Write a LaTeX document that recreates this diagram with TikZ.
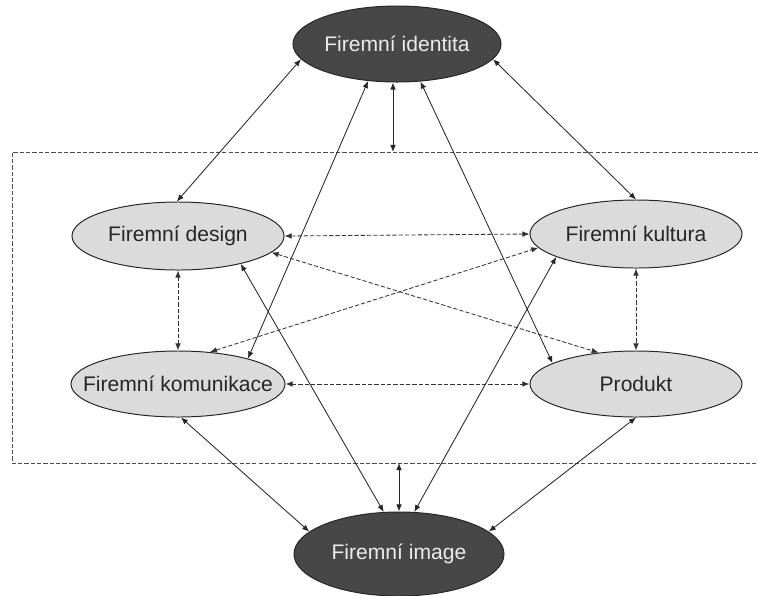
\documentclass[tikz,border=0pt]{standalone}
\usepackage{fontspec}
\setmainfont{Liberation Sans}
\usepackage{tikz}
\usetikzlibrary{
    arrows.meta,
    shapes.geometric,
}

\begin{document}
\begin{tikzpicture}[
        x=0.025cm, y=-0.025cm,
        >={Latex[length=5pt,width=4pt]},
        oval/.style={
            ellipse, draw=black!85, line width=0.7pt,
            minimum width=5.3cm, minimum height=1.7cm,
            inner xsep=-1cm, inner ysep=0pt,
            font=\fontsize{15}{18}\selectfont
        },
        light/.style={oval, fill=black!14, text=black!85},
        dark/.style={oval, fill=black!72, text=black!8},
        link/.style={<->, line width=0.6pt, black!85},
        dlink/.style={<->, line width=0.6pt, black!80, dash pattern=on 3pt off 1.5pt},
        frame/.style={line width=0.6pt, black!70, dash pattern=on 3pt off 1.5pt},
    ]
    \useasboundingbox (0,0) rectangle (758,595);

    % ── Frame ──
    \coordinate (frameNE) at (758,152);
    \coordinate (frameNW) at (12,152);
    \coordinate (frameSW) at (12,463);
    \coordinate (frameSE) at (758,463);
    \draw[frame] (frameNE) -- (frameNW) -- (frameSW) -- (frameSE);

    % ── Nodes ──
    \node[dark, minimum width=5.2cm, minimum height=1.9cm] (identita) at (397,44) {Firemní identita};
    \node[light] (design) at (178,236) {Firemní design};
    \node[light] (kultura) at (636,234) {Firemní kultura};
    \node[light, minimum width=5.35cm, minimum height=1.65cm] (komunikace) at (178,384) {Firemní komunikace};
    \node[light, minimum height=1.65cm] (produkt) at (636,384) {Produkt};
    \node[dark, minimum width=5.25cm, minimum height=2.1cm] (image) at (399,554) {Firemní image};

    % ── Identita ──
    \draw[link] (identita.189) -- (design.92);
    \draw[link] (identita.351) -- (kultura.north);
    \draw[link] ([xshift=-0.1cm]identita.south) -- ([xshift=-0.1cm]identita.south |- frameNW);
    \draw[link] (identita.232) -- (komunikace.20);
    \draw[link] (identita.302) -- (produkt.166);

    % ── Image ──
    \draw[link] (image.110) -- (design.336);
    \draw[link] (image.70) -- (kultura.196);
    \draw[link] (image.north) -- (image.north |- frameSW);
    \draw[link] (image.166) -- (komunikace.275);
    \draw[link] (image.14) -- (produkt.south);

    % ── Inside the frame ──
    \draw[dlink] (design.east) -- (kultura.west);
    \draw[dlink] (komunikace.east) -- (produkt.west);
    \draw[dlink] (design.south) -- (komunikace.north);
    \draw[dlink] (kultura.south) -- (produkt.north);
    \draw[dlink] (design.350) -- (produkt.140);
    \draw[dlink] (komunikace.45) -- (kultura.188);

\end{tikzpicture}
\end{document}
